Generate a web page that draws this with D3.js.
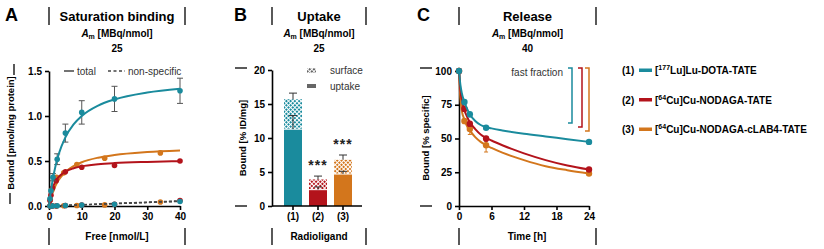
<!DOCTYPE html>
<html>
<head>
<meta charset="utf-8">
<script src="https://cdn.jsdelivr.net/npm/d3@7"></script>
<style>
  body { margin: 0; background: #fff; }
  text { font-family: "Liberation Sans", Arial, sans-serif; }
</style>
</head>
<body>
<div id="chart-area"></div>
<script>
// ---- data ----
const colors = ['#1a8b9d', '#b3131b', '#d3761c'];
const ligandNums = ['(1)', '(2)', '(3)'];
const isotopes = ['177', '64', '64'];
const isoElem = ['Lu', 'Cu', 'Cu'];
const ligandRest = ['Lu-DOTA-TATE', 'Cu-NODAGA-TATE', 'Cu-NODAGA-cLAB4-TATE'];

// A: saturation binding
const satFreeLu = [0.3, 0.6, 1.2, 2.5, 5, 10, 20, 40];
const satTotalLu = [0.08, 0.17, 0.32, 0.52, 0.81, 1.04, 1.19, 1.28];
const satErrLu = [0.02, 0.03, 0.04, 0.06, 0.10, 0.13, 0.14, 0.14];
const satNsLu = [0, 0, 0, 0.003, 0.005, 0.01, 0.02, 0.05];
const satFreeNod = [0.3, 0.6, 1.1, 2.2, 5, 10, 20, 40];
const satTotalNod = [0.06, 0.12, 0.2, 0.28, 0.38, 0.43, 0.45, 0.50];
const satErrNod = [0.01, 0.01, 0.02, 0.02, 0.02, 0.02, 0.02, 0.02];
const satNsNod = [0, 0, 0, 0, 0.005, 0.01, 0.02, 0.06];
const satFreeLab = [0.4, 0.9, 2.3, 4.5, 8.5, 17, 34];
const satTotalLab = [0.07, 0.18, 0.32, 0.37, 0.46, 0.53, 0.59];
const satErrLab = [0.01, 0.02, 0.02, 0.02, 0.02, 0.02, 0.03];
const satNsLab = [0, 0, 0, 0.002, 0.005, 0.012, 0.045];
const satFitX = [0, 0.5, 1, 2, 3, 5, 7.5, 10, 15, 20, 30, 40];
const satFitLu = [0, 0.145, 0.264, 0.446, 0.58, 0.763, 0.906, 1.0, 1.115, 1.184, 1.261, 1.303];
const satFitNod = [0, 0.113, 0.186, 0.274, 0.325, 0.382, 0.419, 0.441, 0.464, 0.477, 0.49, 0.498];
const satFitLab = [0, 0.076, 0.136, 0.227, 0.291, 0.378, 0.443, 0.486, 0.537, 0.567, 0.6, 0.618];
const nsFitX = [0, 40];
const nsFitLu = [0, 0.05];
const nsFitNod = [0, 0.058];
const nsFitLab = [0, 0.053];

// B: uptake
const uptakeTotal = [15.7, 3.9, 6.8];
const uptakeTotalErr = [0.9, 0.5, 0.7];
const uptakeInternal = [11.3, 2.4, 4.7];
const uptakeInternalErr = [2.0, 0.4, 0.4];
const uptakeSig = ['', '***', '***'];

// C: release
const relTime = [0, 1, 2, 5, 24];
const relLu = [100, 77, 68, 58, 47.5];
const relErrLu = [0, 2, 2, 1.5, 1];
const relNod = [100, 72, 61, 50, 27];
const relErrNod = [0, 2, 2, 2, 1];
const relLab = [100, 63, 57, 45, 24];
const relErrLab = [0, 2, 4, 5, 1];
const relFitT = [0, 0.25, 0.5, 1, 1.5, 2, 3, 4, 5, 6, 8, 12, 16, 20, 24];
const relFitLu = [100, 90, 84, 77, 72, 68, 63, 60, 58.5, 57.5, 56, 53.5, 51.5, 49.5, 47.5];
const relFitNod = [100, 86, 79, 71, 66, 62, 57, 53, 50.5, 48.5, 45, 39, 34, 30, 27];
const relFitLab = [100, 80, 71, 64, 59, 56, 51, 47.5, 45, 43, 39.5, 34, 29.5, 26.5, 24];
const fastFraction = [38.5, 41.5, 44.5];

// ---- svg ----
const svg = d3.select('#chart-area').append('svg')
  .attr('width', 824).attr('height', 249);

const zip = (xs, ys) => xs.map((x, i) => [x, ys[i]]);

function styleAxis(g) {
  g.selectAll('path, line').attr('stroke', '#000').attr('stroke-width', 1.6);
  g.selectAll('text').attr('font-size', 10).attr('font-weight', 'bold').attr('fill', '#000');
}

function header(letter, letterX, x0, x1, title, am) {
  const cx = (x0 + x1) / 2;
  svg.append('text').attr('x', letterX).attr('y', 21)
    .attr('font-size', 18).attr('font-weight', 'bold').text(letter);
  [x0, x1].forEach(x => svg.append('line').attr('x1', x).attr('x2', x).attr('y1', 7).attr('y2', 25)
    .attr('stroke', '#000').attr('stroke-width', 1.3));
  svg.append('text').attr('x', cx).attr('y', 21).attr('text-anchor', 'middle')
    .attr('font-size', 13).attr('font-weight', 'bold').text(title);
  const t = svg.append('text').attr('x', cx).attr('y', 37).attr('text-anchor', 'middle')
    .attr('font-size', 10).attr('font-weight', 'bold');
  t.append('tspan').attr('font-style', 'italic').text('A');
  t.append('tspan').attr('font-size', 7).attr('dy', 2).text('m');
  t.append('tspan').attr('dy', -2).text(' [MBq/nmol]');
  svg.append('text').attr('x', cx).attr('y', 52).attr('text-anchor', 'middle')
    .attr('font-size', 10).attr('font-weight', 'bold').text(am);
  // bottom
  [x0, x1].forEach(x => svg.append('line').attr('x1', x).attr('x2', x).attr('y1', 228).attr('y2', 245)
    .attr('stroke', '#000').attr('stroke-width', 1.3));
}

function bottomTitle(cx, txt) {
  svg.append('text').attr('x', cx).attr('y', 240).attr('text-anchor', 'middle')
    .attr('font-size', 10).attr('font-weight', 'bold').text(txt);
}

function yTitle(x, cy, txt) {
  svg.append('text').attr('transform', `translate(${x},${cy}) rotate(-90)`)
    .attr('text-anchor', 'middle').attr('font-size', 9.5).attr('font-weight', 'bold').text(txt);
}

// ================= Panel A =================
const xA = d3.scaleLinear().domain([0, 40]).range([49, 180]);
const yA = d3.scaleLinear().domain([0, 1.5]).range([206, 71]);
header('A', 5, 49, 185, 'Saturation binding', '25');
bottomTitle(117, 'Free [nmol/L]');
yTitle(14, 133, 'Bound [pmol/mg protein]');
svg.append('line').attr('x1', 14).attr('x2', 14).attr('y1', 64).attr('y2', 75).attr('stroke', '#000').attr('stroke-width', 1.3);
svg.append('line').attr('x1', 10).attr('x2', 10).attr('y1', 193).attr('y2', 204).attr('stroke', '#000').attr('stroke-width', 1.3);

svg.append('g').attr('transform', 'translate(0,206)')
  .call(d3.axisBottom(xA).tickValues([0, 10, 20, 30, 40]).tickSize(4).tickSizeOuter(0))
  .call(styleAxis);
svg.append('g').attr('transform', 'translate(49,0)')
  .call(d3.axisLeft(yA).tickValues([0, 0.5, 1.0, 1.5]).tickFormat(d3.format('.1f')).tickSize(4).tickSizeOuter(0))
  .call(styleAxis);

const lineA = d3.line().x(d => xA(d[0])).y(d => yA(d[1])).curve(d3.curveMonotoneX);
const satSets = [
  { fit: satFitLu, ns: nsFitLu, free: satFreeLu, tot: satTotalLu, err: satErrLu, nsv: satNsLu },
  { fit: satFitNod, ns: nsFitNod, free: satFreeNod, tot: satTotalNod, err: satErrNod, nsv: satNsNod },
  { fit: satFitLab, ns: nsFitLab, free: satFreeLab, tot: satTotalLab, err: satErrLab, nsv: satNsLab }
];
// draw order: orange, red, teal on top
[2, 1, 0].forEach(i => {
  const s = satSets[i];
  svg.append('path').datum(zip(nsFitX, s.ns)).attr('d', lineA)
    .attr('fill', 'none').attr('stroke', '#444').attr('stroke-width', 1.3).attr('stroke-dasharray', '3,2');
  svg.selectAll(null).data(zip(s.free, s.nsv)).join('circle')
    .attr('cx', d => xA(d[0])).attr('cy', d => yA(d[1])).attr('r', 2.8).attr('fill', colors[i]);
});
[2, 1, 0].forEach(i => {
  const s = satSets[i];
  const pts = s.free.map((x, k) => ({ x, y: s.tot[k], e: s.err[k] }));
  const eb = svg.append('g').attr('stroke', '#555').attr('stroke-width', 1);
  pts.filter(d => d.e > 0.03).forEach(d => {
    eb.append('line').attr('x1', xA(d.x)).attr('x2', xA(d.x)).attr('y1', yA(d.y - d.e)).attr('y2', yA(d.y + d.e));
    eb.append('line').attr('x1', xA(d.x) - 3).attr('x2', xA(d.x) + 3).attr('y1', yA(d.y + d.e)).attr('y2', yA(d.y + d.e));
    eb.append('line').attr('x1', xA(d.x) - 3).attr('x2', xA(d.x) + 3).attr('y1', yA(d.y - d.e)).attr('y2', yA(d.y - d.e));
  });
  svg.append('path').datum(zip(satFitX, s.fit)).attr('d', lineA)
    .attr('fill', 'none').attr('stroke', colors[i]).attr('stroke-width', 2);
  svg.selectAll(null).data(pts).join('circle')
    .attr('cx', d => xA(d.x)).attr('cy', d => yA(d.y)).attr('r', 2.8).attr('fill', colors[i]);
});
// legend A
svg.append('line').attr('x1', 64).attr('x2', 74).attr('y1', 71).attr('y2', 71).attr('stroke', '#444').attr('stroke-width', 1.5);
svg.append('text').attr('x', 77).attr('y', 75).attr('font-size', 10).attr('fill', '#333').text('total');
svg.append('line').attr('x1', 108).attr('x2', 125).attr('y1', 71).attr('y2', 71).attr('stroke', '#444')
  .attr('stroke-width', 1.5).attr('stroke-dasharray', '3,2.5');
svg.append('text').attr('x', 128).attr('y', 75).attr('font-size', 10).attr('fill', '#333').text('non-specific');

// ================= Panel B =================
const xB = d3.scaleBand().domain(ligandNums).range([280.5, 355.5]).paddingInner(0.28).paddingOuter(0.14);
const yB = d3.scaleLinear().domain([0, 20]).range([206, 70]);
header('B', 234, 272, 366, 'Uptake', '25');
bottomTitle(319, 'Radioligand');
yTitle(246, 138, 'Bound [% ID/mg]');
[68, 206].forEach(y => svg.append('line').attr('x1', 235).attr('x2', 247).attr('y1', y).attr('y2', y)
  .attr('stroke', '#000').attr('stroke-width', 1.3));

const defs = svg.append('defs');
colors.concat(['#666']).forEach((c, i) => {
  const p = defs.append('pattern').attr('id', 'hatch' + i).attr('patternUnits', 'userSpaceOnUse')
    .attr('width', 3).attr('height', 3).attr('patternTransform', 'rotate(45)');
  p.append('rect').attr('width', 3).attr('height', 3).attr('fill', '#fff');
  p.append('rect').attr('width', 2).attr('height', 2).attr('fill', c);
});

const bw = xB.bandwidth();
ligandNums.forEach((k, i) => {
  const x0 = xB(k);
  // surface (hatched) part
  svg.append('rect').attr('x', x0).attr('width', bw)
    .attr('y', yB(uptakeTotal[i])).attr('height', yB(uptakeInternal[i]) - yB(uptakeTotal[i]))
    .attr('fill', `url(#hatch${i})`);
  // uptake part
  svg.append('rect').attr('x', x0).attr('width', bw)
    .attr('y', yB(uptakeInternal[i])).attr('height', yB(0) - yB(uptakeInternal[i]))
    .attr('fill', colors[i]);
  svg.append('line').attr('x1', x0).attr('x2', x0 + bw).attr('y1', yB(uptakeInternal[i])).attr('y2', yB(uptakeInternal[i]))
    .attr('stroke', '#fff').attr('stroke-width', 1);
  const cx = x0 + bw / 2;
  [[uptakeTotal[i], uptakeTotalErr[i]], [uptakeInternal[i], uptakeInternalErr[i]]].forEach(([v, e]) => {
    svg.append('line').attr('x1', cx).attr('x2', cx).attr('y1', yB(v)).attr('y2', yB(v + e))
      .attr('stroke', '#333').attr('stroke-width', 1);
    svg.append('line').attr('x1', cx - 4).attr('x2', cx + 4).attr('y1', yB(v + e)).attr('y2', yB(v + e))
      .attr('stroke', '#333').attr('stroke-width', 1);
  });
  if (uptakeSig[i]) {
    svg.append('text').attr('x', cx).attr('y', yB(uptakeTotal[i] + uptakeTotalErr[i]) - 6)
      .attr('text-anchor', 'middle').attr('font-size', 14).attr('font-weight', 'bold').attr('fill', '#222')
      .attr('letter-spacing', 1).text(uptakeSig[i]);
  }
});
svg.append('g').attr('transform', 'translate(0,206)')
  .call(d3.axisBottom(xB).tickSize(4).tickSizeOuter(0))
  .call(g => g.select('.domain').attr('d', 'M-8,0H82').attr('transform', 'translate(280,0)'))
  .call(styleAxis);
svg.append('g').attr('transform', 'translate(272,0)')
  .call(d3.axisLeft(yB).tickValues([0, 5, 10, 15, 20]).tickSize(4).tickSizeOuter(0))
  .call(styleAxis);
// legend B
svg.append('rect').attr('x', 307).attr('y', 68).attr('width', 9).attr('height', 5).attr('fill', 'url(#hatch3)');
svg.append('text').attr('x', 330).attr('y', 74).attr('font-size', 10).attr('fill', '#333').text('surface');
svg.append('rect').attr('x', 307).attr('y', 84).attr('width', 9).attr('height', 4).attr('fill', '#666');
svg.append('text').attr('x', 330).attr('y', 90).attr('font-size', 10).attr('fill', '#333').text('uptake');

// ================= Panel C =================
const xC = d3.scaleLinear().domain([0, 24]).range([459, 589]);
const yC = d3.scaleLinear().domain([0, 100]).range([206, 71]);
header('C', 417, 459, 596, 'Release', '40');
bottomTitle(527, 'Time [h]');
yTitle(429, 138, 'Bound [% specific]');
[68, 206].forEach(y => svg.append('line').attr('x1', 420).attr('x2', 432).attr('y1', y).attr('y2', y)
  .attr('stroke', '#000').attr('stroke-width', 1.3));

svg.append('g').attr('transform', 'translate(0,206)')
  .call(d3.axisBottom(xC).tickValues([0, 6, 12, 18, 24]).tickSize(4).tickSizeOuter(0))
  .call(styleAxis);
svg.append('g').attr('transform', 'translate(459,0)')
  .call(d3.axisLeft(yC).tickValues([0, 25, 50, 75, 100]).tickSize(4).tickSizeOuter(0))
  .call(styleAxis);

const lineC = d3.line().x(d => xC(d[0])).y(d => yC(d[1])).curve(d3.curveMonotoneX);
const relSets = [
  { fit: relFitLu, v: relLu, e: relErrLu },
  { fit: relFitNod, v: relNod, e: relErrNod },
  { fit: relFitLab, v: relLab, e: relErrLab }
];
[2, 1, 0].forEach(i => {
  const s = relSets[i];
  svg.append('path').datum(zip(relFitT, s.fit)).attr('d', lineC)
    .attr('fill', 'none').attr('stroke', colors[i]).attr('stroke-width', 2);
  relTime.forEach((t, k) => {
    if (s.e[k] > 1.5) {
      svg.append('line').attr('x1', xC(t)).attr('x2', xC(t)).attr('y1', yC(s.v[k] - s.e[k])).attr('y2', yC(s.v[k] + s.e[k]))
        .attr('stroke', colors[i]).attr('stroke-width', 1);
      svg.append('line').attr('x1', xC(t) - 2).attr('x2', xC(t) + 2).attr('y1', yC(s.v[k] - s.e[k])).attr('y2', yC(s.v[k] - s.e[k]))
        .attr('stroke', colors[i]).attr('stroke-width', 1);
    }
  });
  svg.selectAll(null).data(zip(relTime, s.v)).join('circle')
    .attr('cx', d => xC(d[0])).attr('cy', d => yC(d[1])).attr('r', 3.2).attr('fill', colors[i]);
});
// fast fraction brackets
svg.append('text').attr('x', 563).attr('y', 76).attr('text-anchor', 'end').attr('font-size', 10).attr('fill', '#333')
  .text('fast fraction');
[572, 582, 589].forEach((bx, i) => {
  const yt = yC(100) - 3, yb = yC(100 - fastFraction[i]);
  svg.append('path').attr('d', `M${bx - 4},${yt}H${bx}V${yb}H${bx - 4}`)
    .attr('fill', 'none').attr('stroke', colors[i]).attr('stroke-width', 1.5);
});

// ================= Legend =================
ligandNums.forEach((n, i) => {
  const y = 70 + i * 29.5;
  svg.append('text').attr('x', 622).attr('y', y + 4).attr('font-size', 10).attr('font-weight', 'bold').text(n);
  svg.append('rect').attr('x', 639).attr('y', y - 1.5).attr('width', 13).attr('height', 3.5).attr('fill', colors[i]);
  const t = svg.append('text').attr('x', 655).attr('y', y + 4).attr('font-size', 10).attr('font-weight', 'bold');
  t.append('tspan').text('[');
  t.append('tspan').attr('font-size', 7).attr('dy', -4).text(isotopes[i]);
  t.append('tspan').attr('dy', 4).text(isoElem[i] + ']' + ligandRest[i]);
});
</script>
</body>
</html>
